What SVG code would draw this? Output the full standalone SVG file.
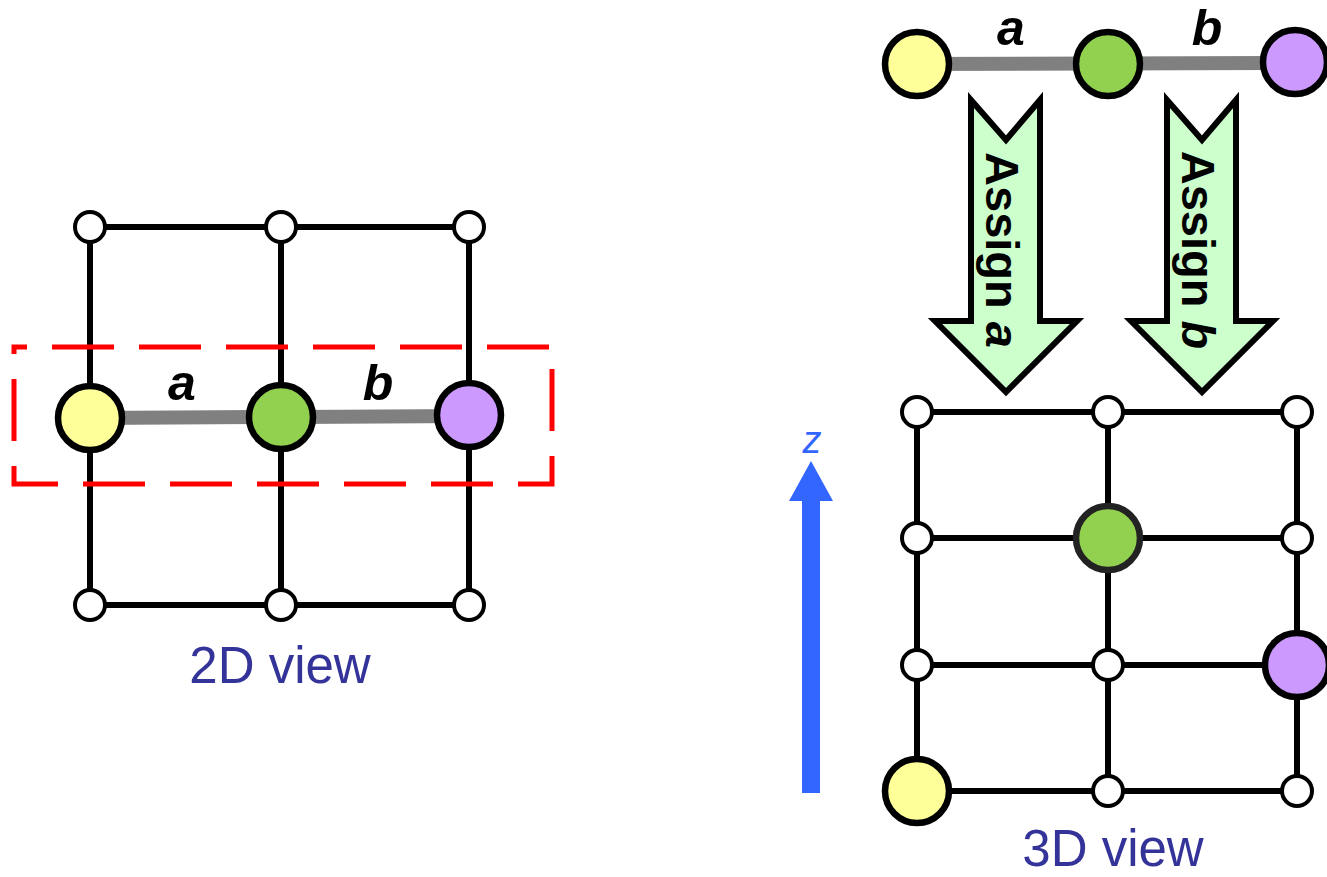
<svg xmlns="http://www.w3.org/2000/svg" width="1327" height="877" viewBox="0 0 1327 877">
<style>
.grid{stroke:#000;stroke-width:6;fill:none}
.chain{stroke:#808080;stroke-width:14;fill:none}
.small{fill:#fff;stroke:#000;stroke-width:4}
.big{stroke:#000;stroke-width:6.5}
.y{fill:#FFFF99}.g{fill:#92D050}.p{fill:#CC99FF}
.lbl{font-family:"Liberation Sans",Arial,sans-serif;font-weight:bold;font-style:italic;font-size:50px;fill:#000;text-anchor:middle}
.view{font-family:"Liberation Sans",Arial,sans-serif;font-size:51px;fill:#333399;text-anchor:middle}
.blk{fill:#CCFFCC;stroke:#000;stroke-width:6;stroke-linejoin:miter}
.asg{font-family:"Liberation Sans",Arial,sans-serif;font-weight:bold;font-size:47px;fill:#000;text-anchor:middle}
</style>
<g id="connectors">
<g id="grid2d">
<line class="grid" x1="90" y1="227" x2="469" y2="227"/>
<line class="grid" x1="90" y1="605" x2="469" y2="605"/>
<line class="grid" x1="90" y1="227" x2="90" y2="605"/>
<line class="grid" x1="281" y1="227" x2="281" y2="605"/>
<line class="grid" x1="469" y1="227" x2="469" y2="605"/>
<line class="chain" x1="90" y1="418" x2="469" y2="416"/>
</g>
<g id="grid3d">
<line class="grid" x1="917" y1="412" x2="1297" y2="412"/>
<line class="grid" x1="917" y1="538" x2="1297" y2="538"/>
<line class="grid" x1="917" y1="665" x2="1297" y2="665"/>
<line class="grid" x1="917" y1="791" x2="1297" y2="791"/>
<line class="grid" x1="917" y1="412" x2="917" y2="791"/>
<line class="grid" x1="1108" y1="412" x2="1108" y2="791"/>
<line class="grid" x1="1297" y1="412" x2="1297" y2="791"/>
</g>
<line id="chain-top" class="chain" x1="917" y1="64" x2="1295" y2="63"/>
</g>
<g id="frame">
<rect x="14" y="347" width="538" height="137" fill="none" stroke="#FF0000" stroke-width="5" stroke-dasharray="62 25" stroke-dashoffset="-38"/>
</g>
<g id="nodes2d">
<circle class="small" cx="90" cy="227" r="15"/>
<circle class="small" cx="281" cy="227" r="15"/>
<circle class="small" cx="469" cy="227" r="15"/>
<circle class="small" cx="90" cy="605" r="15"/>
<circle class="small" cx="281" cy="605" r="15"/>
<circle class="small" cx="469" cy="605" r="15"/>
<circle id="y2d" class="big y" cx="90" cy="418" r="32"/>
<circle id="g2d" class="big g" cx="281" cy="417" r="32"/>
<circle id="p2d" class="big p" cx="469" cy="415" r="32"/>
<text class="lbl" x="182" y="400">a</text>
<text class="lbl" x="378" y="400">b</text>
<text class="view" x="280" y="683">2D view</text>
</g>
<g id="chain-top-nodes">
<circle class="big y" cx="917" cy="64" r="32"/>
<circle class="big g" cx="1108" cy="64" r="32"/>
<circle class="big p" cx="1295" cy="62" r="32"/>
<text class="lbl" x="1011" y="45">a</text>
<text class="lbl" x="1207" y="45">b</text>
</g>
<g id="assign-a">
<path class="blk" d="M971,100 L1006,140 L1040,100 L1040,321 L1077,321 L1006,392 L935,321 L971,321 Z"/>
<text class="asg" transform="translate(986,250) rotate(90)">Assign <tspan font-style="italic">a</tspan></text>
</g>
<g id="assign-b">
<path class="blk" d="M1167,100 L1202,140 L1236,100 L1236,321 L1273,321 L1202,392 L1131,321 L1167,321 Z"/>
<text class="asg" transform="translate(1182,250) rotate(90)">Assign <tspan font-style="italic">b</tspan></text>
</g>
<g id="nodes3d">
<circle class="small" cx="917" cy="412" r="15"/>
<circle class="small" cx="1108" cy="412" r="15"/>
<circle class="small" cx="1297" cy="412" r="15"/>
<circle class="small" cx="917" cy="538" r="15"/>
<circle class="small" cx="1297" cy="538" r="15"/>
<circle class="small" cx="917" cy="665" r="15"/>
<circle class="small" cx="1108" cy="665" r="15"/>
<circle class="small" cx="1108" cy="791" r="15"/>
<circle class="small" cx="1297" cy="791" r="15"/>
<circle id="g3d" class="g" cx="1108" cy="538" r="32" stroke="#222" stroke-width="6.5"/>
<circle id="p3d" class="big p" cx="1297" cy="665" r="32"/>
<circle id="y3d" class="big y" cx="917" cy="791" r="32"/>
<text class="view" x="1113" y="866">3D view</text>
</g>
<g id="z-axis">
<polygon points="802,793 820,793 820,501 833,501 811,461 789,501 802,501" fill="#3366FF"/>
<text x="812" y="453" font-family="Liberation Sans, Arial, sans-serif" font-style="italic" font-size="38" fill="#3366FF" text-anchor="middle">z</text>
</g>
</svg>
